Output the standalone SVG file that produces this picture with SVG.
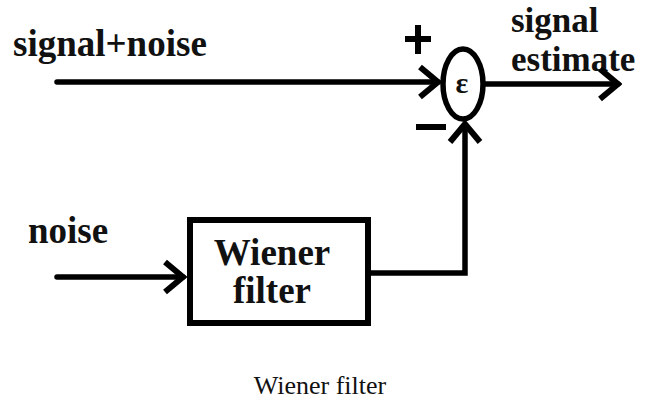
<svg xmlns="http://www.w3.org/2000/svg" width="647" height="400" viewBox="0 0 647 400">
<style>
.lbl{font-family:"Liberation Serif","Times New Roman",serif;font-weight:bold;font-size:37px;fill:#111}
.out{font-size:35px}
.cap{font-family:"Liberation Serif","Times New Roman",serif;font-size:26px;fill:#111}
.ln{fill:none;stroke:#000;stroke-width:5.5;stroke-linecap:round}
</style>
<defs>
<marker id="ah" markerUnits="userSpaceOnUse" viewBox="-30 -20 34 40" refX="0" refY="0" markerWidth="34" markerHeight="40" orient="auto">
<path d="M-18,-15 L0,0 L-18,15" fill="none" stroke="#000" stroke-width="6" stroke-linejoin="miter"/>
</marker>
</defs>
<rect width="647" height="400" fill="#fff"/>
<g id="sum">
<ellipse cx="463" cy="84" rx="20" ry="35" fill="none" stroke="#000" stroke-width="5.5"/>
<text x="462" y="93" text-anchor="middle" class="lbl" style="font-size:30px">ε</text>
<path d="M405,39 H431 M418,25 V54" stroke="#000" stroke-width="6" fill="none"/>
<path d="M416,127 H446" stroke="#000" stroke-width="6" fill="none"/>
</g>
<g id="wiener">
<rect x="190" y="220" width="178" height="103" fill="none" stroke="#000" stroke-width="6"/>
<text x="272" y="265" text-anchor="middle" class="lbl">Wiener</text>
<text x="272" y="303" text-anchor="middle" class="lbl">filter</text>
</g>
<g id="labels">
<text x="13" y="56" class="lbl">signal+noise</text>
<text x="28" y="243" class="lbl">noise</text>
<text x="511" y="32" class="lbl out">signal</text>
<text x="511" y="71" class="lbl out">estimate</text>
</g>
<g id="connectors">
<path class="ln" d="M57,82 H438" marker-end="url(#ah)"/>
<path class="ln" d="M486,84 H618" marker-end="url(#ah)"/>
<path class="ln" d="M57,277 H183" marker-end="url(#ah)"/>
<path class="ln" d="M368,273 H465 V124" style="stroke-linecap:butt;stroke-linejoin:miter" marker-end="url(#ah)"/>
</g>
<text x="320" y="394" text-anchor="middle" class="cap">Wiener filter</text>
</svg>
